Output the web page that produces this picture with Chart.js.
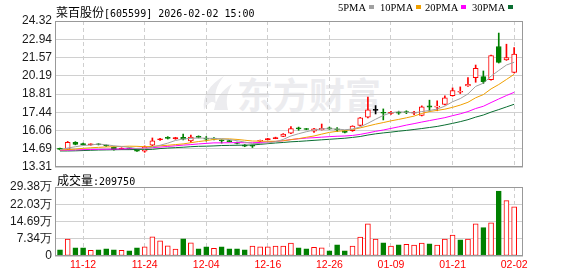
<!DOCTYPE html>
<html>
<head>
<meta charset="utf-8">
<script src="https://cdn.jsdelivr.net/npm/chart.js@4.4.1/dist/chart.umd.min.js"></script>
<style>
html, body { margin: 0; padding: 0; background: #fff; }
#wrap { position: relative; width: 578px; height: 276px; overflow: hidden; }
#priceCanvas { position: absolute; left: 0; top: 0; }
#volCanvas { position: absolute; left: 0; top: 176px; }
.cap { position: absolute; white-space: nowrap; color: #000; line-height: 12px; }
.cn { font: 12px "Noto Sans CJK SC"; }
.mono { font: 10px "DejaVu Sans Mono"; }
.leg { position: absolute; top: 2px; font: 10.5px "Liberation Serif"; line-height: 12px; color: #000; white-space: nowrap; }
.leg i { display: inline-block; width: 5px; height: 4px; margin-left: 3px; vertical-align: 2px; }
#wm { position: absolute; left: 237px; top: 75px; font: bold 36px "Noto Sans CJK SC"; line-height: 36px; color: #ececef; }
#logo { position: absolute; left: 200px; top: 74px; }
</style>
</head>
<body>
<div id="wrap">
  <svg id="logo" width="34" height="38" viewBox="0 0 34 38">
    <path d="M4 36 C2 22 10 10 24 2 C16 12 14 20 16 30 C12 26 9 28 4 36 Z" fill="#ececef"/>
    <path d="M14 36 C16 24 22 16 32 10 C26 20 26 28 28 36 Z" fill="#ececef"/>
  </svg>
  <div id="wm">东方财富</div>
  <canvas id="priceCanvas" width="578" height="178"></canvas>
  <canvas id="volCanvas" width="578" height="100"></canvas>
  <div class="cap" style="left:56px;top:3px;"><span class="cn">菜百股份</span><span class="mono">[605599] 2026-02-02 15:00</span></div>
  <div class="leg" style="left:338px;">5PMA<i style="background:#a0a0a0"></i></div>
  <div class="leg" style="left:380px;">10PMA<i style="background:#f0a000"></i></div>
  <div class="leg" style="left:425px;">20PMA<i style="background:#ff00ff"></i></div>
  <div class="leg" style="left:472px;">30PMA<i style="background:#0a6e32"></i></div>
  <div class="cap" style="left:57px;top:171px;"><span class="cn">成交量</span><span class="mono">:209750</span></div>
</div>
<script>
// trading days shown
const dates = ['11-07','11-10','11-11','11-12','11-13','11-14','11-17','11-18','11-19','11-20',
  '11-21','11-24','11-25','11-26','11-27','11-28','12-01','12-02','12-03','12-04',
  '12-05','12-08','12-09','12-10','12-11','12-12','12-15','12-16','12-17','12-18',
  '12-19','12-22','12-23','12-24','12-25','12-26','12-29','12-30','12-31','01-05',
  '01-06','01-07','01-08','01-09','01-12','01-13','01-14','01-15','01-16','01-19',
  '01-20','01-21','01-22','01-23','01-26','01-27','01-28','01-29','01-30','02-02'];

const openP = [14.70,14.66,15.17,15.06,15.00,15.04,14.95,14.80,14.68,14.73,
  14.66,14.50,14.96,15.38,15.53,15.46,15.54,15.27,15.60,15.46,
  15.49,15.34,15.28,15.14,14.96,14.93,15.25,15.38,15.46,15.62,
  15.86,16.24,16.19,16.02,16.12,16.24,16.18,16.04,16.05,16.45,
  17.06,17.62,17.44,17.37,17.42,17.48,17.40,17.20,17.93,17.82,
  18.02,18.68,18.95,19.42,20.05,20.12,19.90,22.40,21.38,20.45];
const highP = [14.74,15.24,15.22,15.12,15.06,15.08,14.98,14.83,14.76,14.76,
  14.68,14.90,15.50,15.48,15.60,15.55,15.80,15.72,15.66,15.61,
  15.52,15.36,15.32,15.18,15.00,14.97,15.34,15.48,15.56,15.83,
  16.35,16.32,16.22,16.22,16.55,16.32,16.28,16.06,16.42,17.05,
  18.58,17.94,17.69,17.50,17.52,17.55,17.50,17.92,18.35,18.30,
  18.68,19.27,19.35,20.05,21.00,20.55,21.75,23.41,22.57,22.32];
const lowP = [14.60,14.62,14.98,14.96,14.95,14.97,14.86,14.58,14.64,14.66,
  14.48,14.42,14.92,15.32,15.42,15.40,15.36,15.16,15.50,15.27,
  15.36,15.11,15.20,15.05,14.84,14.78,15.22,15.35,15.44,15.60,
  15.82,16.08,16.12,15.92,16.10,16.14,15.98,15.88,16.00,16.40,
  17.02,17.31,16.86,17.28,17.28,17.33,17.25,17.16,17.52,17.55,
  18.00,18.65,18.85,19.38,19.70,19.60,19.85,21.15,21.35,20.40];
const closeP = [14.66,15.17,15.01,15.00,15.03,15.01,14.91,14.62,14.72,14.70,
  14.51,14.84,15.29,15.42,15.48,15.50,15.40,15.57,15.54,15.40,
  15.41,15.30,15.24,15.10,14.88,14.90,15.30,15.43,15.51,15.80,
  16.20,16.18,16.15,16.18,16.22,16.20,16.10,15.92,16.40,17.01,
  17.62,17.62,17.36,17.40,17.38,17.40,17.42,17.84,17.82,17.90,
  18.53,19.08,19.02,19.55,20.75,19.75,21.72,21.20,21.56,21.82];
const prevClose0 = 14.75;

const ma5 = [14.62,14.74,14.84,14.93,14.97,15.04,14.99,14.91,14.86,14.79,
  14.69,14.68,14.81,14.95,15.11,15.31,15.42,15.47,15.50,15.48,
  15.46,15.44,15.38,15.29,15.19,15.08,15.08,15.12,15.20,15.39,
  15.65,15.82,15.97,16.10,16.19,16.19,16.17,16.12,16.17,16.33,
  16.61,16.91,17.20,17.40,17.48,17.43,17.39,17.49,17.57,17.68,
  17.90,18.23,18.47,18.82,19.39,19.63,20.16,20.59,21.00,21.21];
const ma10 = [14.60,14.62,14.66,14.72,14.76,14.79,14.82,14.84,14.86,14.88,
  14.87,14.84,14.86,14.91,14.95,15.00,15.05,15.14,15.23,15.30,
  15.39,15.43,15.43,15.39,15.33,15.27,15.26,15.25,15.25,15.29,
  15.37,15.45,15.55,15.65,15.79,15.92,16.00,16.05,16.14,16.26,
  16.40,16.54,16.66,16.79,16.90,17.02,17.15,17.35,17.49,17.58,
  17.67,17.81,17.98,18.19,18.53,18.77,19.20,19.53,19.91,20.30];
const ma20 = [14.57,14.58,14.60,14.62,14.63,14.64,14.65,14.66,14.67,14.69,
  14.71,14.73,14.77,14.81,14.86,14.91,14.96,15.00,15.05,15.09,
  15.13,15.13,15.14,15.15,15.14,15.14,15.16,15.20,15.24,15.29,
  15.38,15.44,15.49,15.52,15.56,15.60,15.63,15.65,15.69,15.77,
  15.88,16.00,16.10,16.22,16.34,16.47,16.58,16.70,16.81,16.92,
  17.03,17.18,17.32,17.49,17.72,17.89,18.17,18.44,18.70,18.94];
const ma30 = [14.52,14.52,14.53,14.55,14.57,14.59,14.60,14.61,14.62,14.62,
  14.63,14.63,14.64,14.70,14.74,14.77,14.80,14.84,14.87,14.88,
  14.90,14.93,14.94,14.95,14.96,14.97,15.02,15.07,15.12,15.16,
  15.21,15.24,15.28,15.32,15.36,15.40,15.44,15.48,15.54,15.61,
  15.72,15.81,15.88,15.94,16.01,16.07,16.14,16.21,16.29,16.37,
  16.48,16.60,16.73,16.88,17.07,17.23,17.45,17.64,17.84,18.04];

const volume = [26000,72000,35000,35000,24000,26000,30000,26000,24000,22000,
  35000,39000,82000,65000,43000,29000,73000,56000,30000,39000,
  33000,39000,30000,30000,26000,42000,39000,39000,42000,42000,
  55000,35000,30000,37000,35000,22000,48000,22000,42000,81000,
  137000,72000,56000,42000,48000,50000,46000,55000,52000,46000,
  72000,89000,69000,72000,137000,121000,141000,276000,236000,209750];

const priceTicks = [13.31,14.69,16.06,17.44,18.81,20.19,21.57,22.94,24.32];
const volTicks = [0,73450,146900,220350,293800];
const volTickLabels = ['0','7.34万','14.69万','22.03万','29.38万'];
const xTickLabels = ['11-12','11-24','12-04','12-16','12-26','01-09','01-21','02-02'];

const RED = '#ff0000', GREEN = '#008000', BLACK = '#000000';
const xTickIdx = xTickLabels.map(d => dates.indexOf(d));
const prevClose = closeP.map((c, i) => i === 0 ? prevClose0 : closeP[i - 1]);

function isDoji(i) { return Math.abs(closeP[i] - openP[i]) < 0.05; }
function candleColor(i) {
  const o = openP[i], c = closeP[i];
  if (c > o) return RED;
  if (c < o) return GREEN;
  return c > prevClose[i] ? RED : (c < prevClose[i] ? GREEN : BLACK);
}

const bodyData = dates.map((d, i) => {
  let lo = Math.min(openP[i], closeP[i]), hi = Math.max(openP[i], closeP[i]);
  if (isDoji(i)) { const m = (lo + hi) / 2; lo = m - 0.035; hi = m + 0.035; }
  return { x: i, y: [lo, hi] };
});
const wickData = dates.map((d, i) => ({ x: i, y: [lowP[i], highP[i]] }));
const volData = dates.map((d, i) => ({ x: i, y: volume[i] }));
const line = arr => arr.map((v, i) => ({ x: i, y: v }));

Chart.defaults.font.family = 'Liberation Sans';

const framePlugin = {
  id: 'frame',
  afterDatasetsDraw(chart) {
    const { ctx, chartArea: a } = chart;
    ctx.save();
    ctx.strokeStyle = '#999';
    ctx.lineWidth = 1;
    ctx.strokeRect(Math.round(a.left) + 0.5, Math.round(a.top) + 0.5,
      Math.round(a.right - a.left) - 1, Math.round(a.bottom - a.top) - 1);
    ctx.restore();
  }
};

function xScale(showTicks) {
  return {
    type: 'linear',
    min: -0.65,
    max: 60.15,
    offset: false,
    afterBuildTicks: ax => { ax.ticks = xTickIdx.map(v => ({ value: v })); },
    afterFit: ax => { ax.height = showTicks ? 20 : 0; },
    grid: { color: '#cfcfcf', drawTicks: false, offset: false },
    border: { display: false, dash: [4, 3] },
    ticks: {
      display: showTicks, autoSkip: false, maxRotation: 0, padding: 3,
      color: RED, font: { size: 10.5 },
      callback: v => dates[v]
    }
  };
}

function yScale(min, max, tickVals, fmt) {
  return {
    min: min, max: max,
    afterBuildTicks: ax => { ax.ticks = tickVals.map(v => ({ value: v })); },
    afterFit: ax => { ax.width = 55; },
    grid: { color: '#d0d0d0', drawTicks: false },
    border: { display: false },
    ticks: { autoSkip: false, padding: 3, color: '#1a1a1a', font: { size: 12 }, callback: fmt }
  };
}

new Chart(document.getElementById('priceCanvas'), {
  type: 'bar',
  data: {
    datasets: [
      { type: 'line', data: line(ma5), borderColor: '#a0a0a0', borderWidth: 1, pointRadius: 0, order: 0 },
      { type: 'line', data: line(ma10), borderColor: '#f0a000', borderWidth: 1, pointRadius: 0, order: 0 },
      { type: 'line', data: line(ma20), borderColor: '#ff00ff', borderWidth: 1, pointRadius: 0, order: 0 },
      { type: 'line', data: line(ma30), borderColor: '#0a6e32', borderWidth: 1, pointRadius: 0, order: 0 },
      {
        data: bodyData, order: 1, grouped: false, barThickness: 5, minBarLength: 1,
        borderSkipped: false, borderWidth: 1,
        borderColor: c => candleColor(c.dataIndex),
        backgroundColor: c => (closeP[c.dataIndex] > openP[c.dataIndex] && !isDoji(c.dataIndex)) ? '#ffffff' : candleColor(c.dataIndex)
      },
      {
        data: wickData, order: 2, grouped: false, barThickness: 1, borderWidth: 0,
        backgroundColor: c => candleColor(c.dataIndex)
      }
    ]
  },
  options: {
    responsive: false,
    animation: false,
    layout: { padding: { top: 21, right: 55, bottom: 11, left: 0 } },
    plugins: { legend: { display: false }, tooltip: { enabled: false } },
    scales: {
      x: xScale(false),
      y: yScale(13.31, 24.32, priceTicks, v => v.toFixed(2))
    }
  },
  plugins: [framePlugin]
});

new Chart(document.getElementById('volCanvas'), {
  type: 'bar',
  data: {
    datasets: [{
      data: volData, grouped: false, barThickness: 5,
      borderSkipped: false, borderWidth: 1,
      borderColor: c => closeP[c.dataIndex] >= prevClose[c.dataIndex] ? RED : GREEN,
      backgroundColor: c => closeP[c.dataIndex] >= prevClose[c.dataIndex] ? '#ffffff' : GREEN
    }]
  },
  options: {
    responsive: false,
    animation: false,
    layout: { padding: { top: 11, right: 55, bottom: 0, left: 0 } },
    plugins: { legend: { display: false }, tooltip: { enabled: false } },
    scales: {
      x: xScale(true),
      y: yScale(0, 293800, volTicks, v => volTickLabels[volTicks.indexOf(v)])
    }
  },
  plugins: [framePlugin]
});
</script>
</body>
</html>
